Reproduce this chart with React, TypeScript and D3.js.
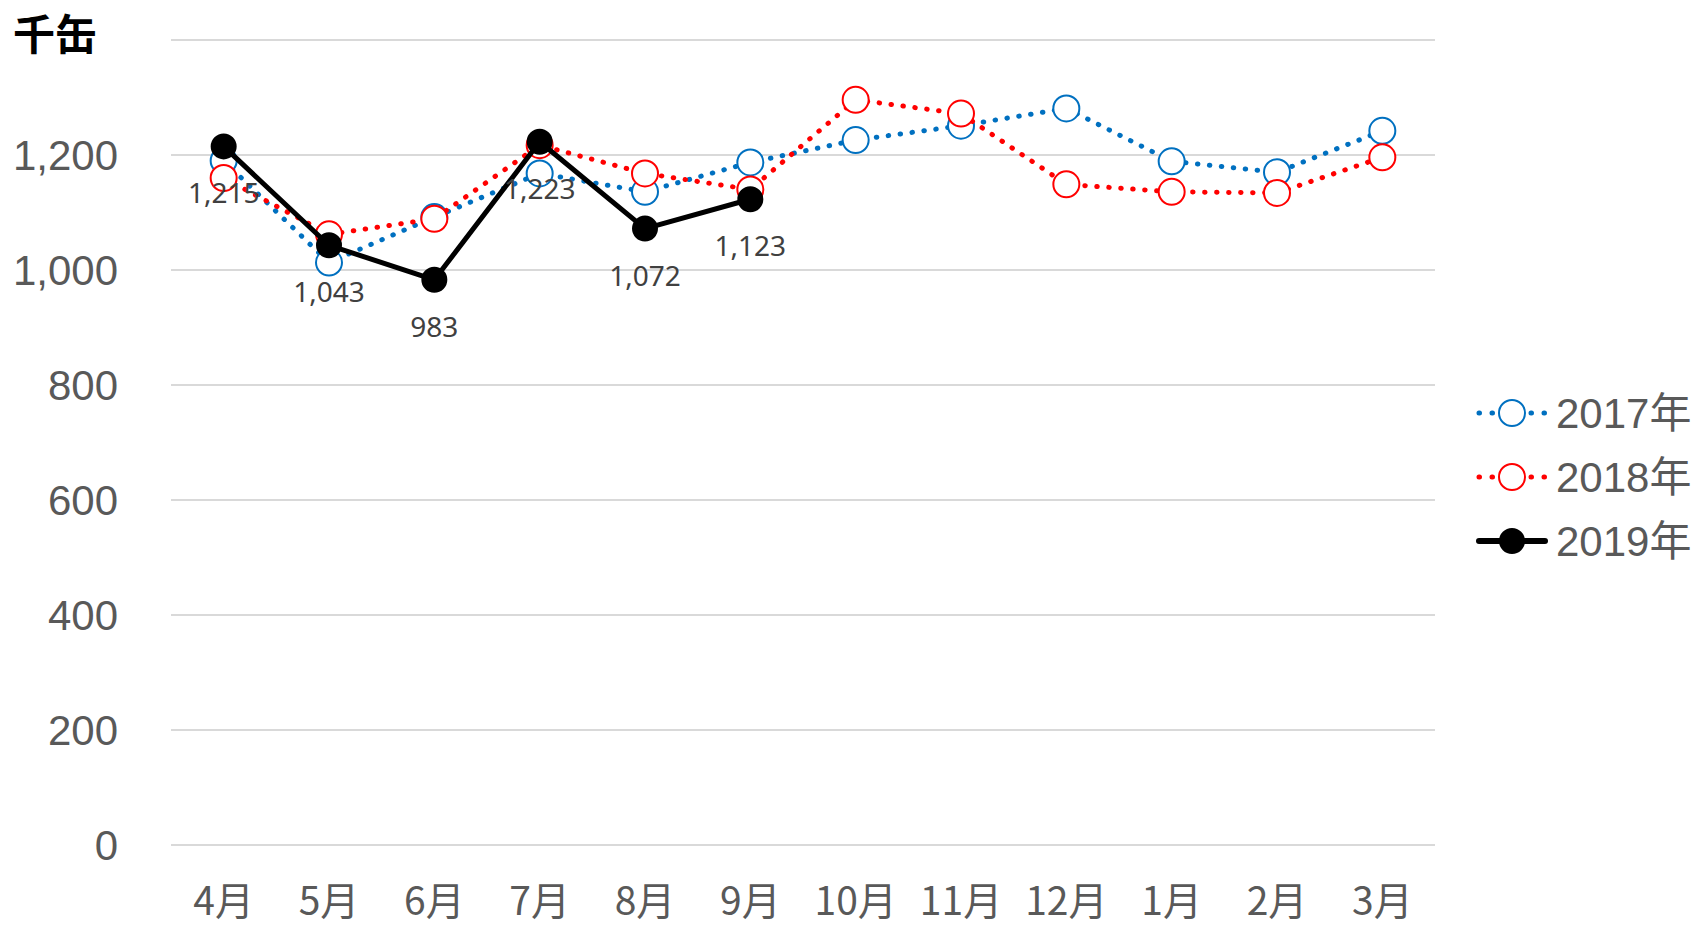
import React from "react";
import * as d3 from "d3";

const months = ["4月", "5月", "6月", "7月", "8月", "9月", "10月", "11月", "12月", "1月", "2月", "3月"];
const s2017 = [1190, 1013, 1092, 1168, 1136, 1187, 1226, 1251, 1281, 1189, 1170, 1242];
const s2018 = [1160, 1062, 1089, 1217, 1168, 1140, 1296, 1272, 1149, 1136, 1134, 1196];
const s2019 = [1215, 1043, 983, 1223, 1072, 1123];
const yTicks = [0, 200, 400, 600, 800, 1000, 1200, 1400];
const yLabelTicks = [0, 200, 400, 600, 800, 1000, 1200];
const seriesNames = ["2017年", "2018年", "2019年"];

const W = 1700;
const H = 926;

export default function App() {
  const x = d3.scaleBand<string>().domain(months).range([171, 1435]);
  const y = d3.scaleLinear().domain([0, 1400]).range([845, 40]);
  const cx = (m: string) => (x(m) as number) + x.bandwidth() / 2;
  const line = d3
    .line<number>()
    .x((_, i) => cx(months[i]))
    .y((d) => y(d));

  const fmt = d3.format(",");
  const dotted = { strokeDasharray: "0.5 11.5", strokeLinecap: "round" as const, strokeWidth: 5 };
  const latin = "'Liberation Sans', Arial, 'Noto Sans CJK JP', sans-serif";
  const cjk = "'Noto Sans CJK JP', sans-serif";

  const series = [
    { name: seriesNames[0], data: s2017, color: "#0070C0", filled: false },
    { name: seriesNames[1], data: s2018, color: "#FF0000", filled: false },
    { name: seriesNames[2], data: s2019, color: "#000000", filled: true },
  ];

  return (
    <svg width={W} height={H} style={{ position: "absolute", left: 0, top: 0 }}>
      <rect width={W} height={H} fill="#fff" />
      {yTicks.map((t) => (
        <line key={t} x1={171} x2={1435} y1={y(t)} y2={y(t)} stroke="#d9d9d9" strokeWidth={2} />
      ))}
      {yLabelTicks.map((t) => (
        <text
          key={t}
          x={118}
          y={y(t) + 15}
          textAnchor="end"
          fontFamily={latin}
          fontSize={42}
          fill="#595959"
        >
          {fmt(t)}
        </text>
      ))}
      {months.map((m) => (
        <text
          key={m}
          x={cx(m)}
          y={915}
          textAnchor="middle"
          fontFamily={cjk}
          fontSize={39}
          fill="#595959"
        >
          {m}
        </text>
      ))}
      <text x={13} y={50} fontFamily={cjk} fontSize={42} fontWeight={700} fill="#000">
        千缶
      </text>

      {series.map((s) => (
        <g key={s.name}>
          <path
            d={line(s.data) || ""}
            fill="none"
            stroke={s.color}
            {...(s.filled ? { strokeWidth: 5, strokeLinejoin: "round" as const } : dotted)}
          />
          {s.data.map((v, i) => (
            <circle
              key={i}
              cx={cx(months[i])}
              cy={y(v)}
              r={s.filled ? 12 : 13}
              fill={s.filled ? "#000" : "#fff"}
              stroke={s.color}
              strokeWidth={2}
            />
          ))}
        </g>
      ))}
      {s2019.map((v, i) => (
        <text
          key={i}
          x={cx(months[i])}
          y={y(v) + 57}
          textAnchor="middle"
          fontFamily="'Noto Sans', sans-serif"
          fontSize={28}
          fill="#404040"
        >
          {fmt(v)}
        </text>
      ))}

      {series.map((s, i) => {
        const ly = 413 + i * 64;
        return (
          <g key={s.name}>
            <line
              x1={1479}
              x2={1545}
              y1={ly}
              y2={ly}
              stroke={s.color}
              {...(s.filled ? { strokeWidth: 6, strokeLinecap: "round" as const } : { ...dotted, strokeDasharray: "0.5 12.5" })}
            />
            <circle
              cx={1512}
              cy={ly}
              r={s.filled ? 12 : 13}
              fill={s.filled ? "#000" : "#fff"}
              stroke={s.color}
              strokeWidth={2}
            />
            <text x={1556} y={ly + 15} fontFamily={latin} fontSize={42} fill="#595959">
              {s.name}
            </text>
          </g>
        );
      })}
    </svg>
  );
}
